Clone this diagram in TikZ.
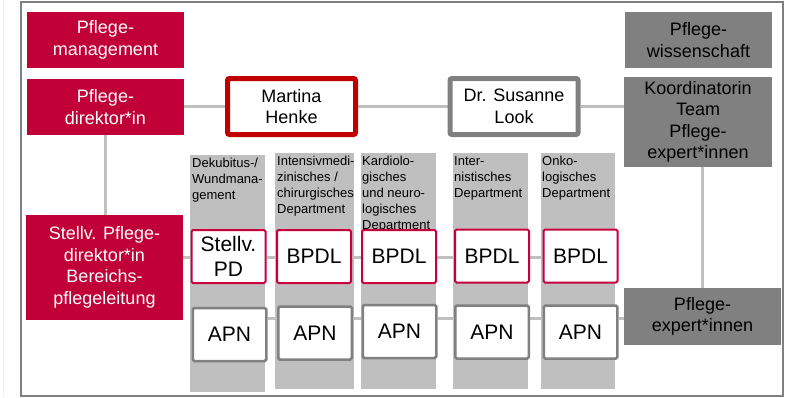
\documentclass[tikz,border=0pt]{standalone}
\usepackage{fontspec}
\setmainfont{Liberation Sans}
\usetikzlibrary{calc}
\definecolor{pred}{RGB}{192,0,54}
\definecolor{bred}{RGB}{200,0,60}
\definecolor{mred}{RGB}{192,0,0}
\definecolor{pgray}{RGB}{128,128,128}
\definecolor{colgray}{RGB}{191,191,191}
\definecolor{lgray}{RGB}{192,192,192}
\definecolor{frame}{RGB}{128,128,128}
\newcommand\fsz[2]{\fontsize{#1}{#2}\selectfont}
\pgfdeclarelayer{cols}
\pgfdeclarelayer{conns}
\pgfsetlayers{cols,conns,main}
\tikzset{
  redbox/.style={fill=pred, text=white, inner sep=0pt, align=center, font=\fsz{18}{21.5}},
  graybox/.style={fill=pgray, text=black, inner sep=0pt, align=center, font=\fsz{18}{21.5}},
  namebox/.style={draw, fill=white, line width=5pt, rounded corners=2pt, inner sep=0pt, align=center,
     minimum width=128pt, minimum height=56pt, font=\fsz{18}{21.5}},
  bpdlbox/.style={draw=bred, fill=white, line width=2pt, rounded corners=1.5pt, inner sep=0pt, align=center,
     minimum width=74pt, minimum height=53pt, font=\fsz{21}{25}},
  apnbox/.style={draw=pgray, fill=white, line width=2.5pt, rounded corners=1.5pt, inner sep=0pt, align=center,
     minimum width=73.5pt, minimum height=53pt, font=\fsz{21}{25}},
  conn/.style={draw=lgray, line width=3pt},
  colbg/.style={fill=colgray},
  coltext/.style={anchor=north west, inner sep=0pt, align=left, font=\fsz{13}{16}},
}
\begin{document}
\begin{tikzpicture}[x=1pt,y=-1pt]
\useasboundingbox (0,0) rectangle (786,397);
\begin{pgfonlayer}{cols}
\draw[gray!12, line width=1pt] (3,0) -- (3,397);
\draw[frame, line width=1.5pt] (21,2) rectangle (783,396);
\fill[colbg] (190,155) rectangle (265,392);
\fill[colbg] (275,153) rectangle (354,389);
\fill[colbg] (361,153) rectangle (436,389);
\fill[colbg] (453,153) rectangle (528,389);
\fill[colbg] (541,153) rectangle (615,389);
\node[coltext] (c1t) at (192,158) {Dekubitus-/\\Wundmana-\\gement};
\node[coltext] (c2t) at (277,156) {Intensivmedi-\\zinisches /\\chirurgisches\\Department};
\node[coltext] (c3t) at (362,156) {Kardiolo-\\gisches\\und neuro-\\logisches\\Department};
\node[coltext] (c4t) at (454,156) {Inter-\\nistisches\\Department};
\node[coltext] (c5t) at (542,156) {Onko-\\logisches\\Department};
\end{pgfonlayer}

\node[redbox, minimum width=157pt, minimum height=56pt] (pm) at (105.5,40) {Pflege-\\management};
\node[redbox, minimum width=157pt, minimum height=56pt] (pd) at (105.5,107) {Pflege-\\direktor*in};
\node[redbox, minimum width=157pt, minimum height=105pt] (st) at (104.5,267.5) {Stellv. Pflege-\\direktor*in\\Bereichs-\\pflegeleitung};
\node[namebox, draw=mred] (mh) at (291.5,106.5) {Martina\\Henke};
\node[namebox, draw=pgray] (sl) at (514,106.5) {Dr. Susanne\\Look};
\node[graybox, minimum width=147pt, minimum height=56pt] (pw) at (698.5,40) {Pflege-\\wissenschaft};
\node[graybox, minimum width=148pt, minimum height=90pt] (ko) at (698,122) {Koordinatorin\\Team\\Pflege-\\expert*innen};
\node[graybox, minimum width=157pt, minimum height=57pt] (pe) at (702.5,316.5) {Pflege-\\expert*innen};

\node[bpdlbox] (b1) at (228.5,256.5) {Stellv.\\PD};
\node[bpdlbox] (b2) at (314,256.5) {BPDL};
\node[bpdlbox] (b3) at (399,256.5) {BPDL};
\node[bpdlbox] (b4) at (492,256) {BPDL};
\node[bpdlbox] (b5) at (580.5,256) {BPDL};

\node[apnbox] (a1) at (229.5,334.5) {APN};
\node[apnbox] (a2) at (315,333) {APN};
\node[apnbox] (a3) at (399.5,331.5) {APN};
\node[apnbox] (a4) at (492,332) {APN};
\node[apnbox] (a5) at (580.5,332) {APN};

\coordinate (yT) at (0,106);
\coordinate (yB) at (0,257);
\coordinate (yA) at (0,318);
\begin{pgfonlayer}{conns}
\draw[conn] (pd.east |- yT) -- (mh.west |- yT);
\draw[conn] (mh.east |- yT) -- (sl.west |- yT);
\draw[conn] (sl.east |- yT) -- (ko.west |- yT);
\draw[conn] (pd.south) -- (pd.south |- st.north);
\draw[conn] (pe.north |- ko.south) -- (pe.north);
\draw[conn] (st.east |- yB) -- (b1.west |- yB);
\draw[conn] (b1.east |- yB) -- (b2.west |- yB);
\draw[conn] (b2.east |- yB) -- (b3.west |- yB);
\draw[conn] (b3.east |- yB) -- (b4.west |- yB);
\draw[conn] (b4.east |- yB) -- (b5.west |- yB);
\draw[conn] (a1.east |- yA) -- (a2.west |- yA);
\draw[conn] (a2.east |- yA) -- (a3.west |- yA);
\draw[conn] (a3.east |- yA) -- (a4.west |- yA);
\draw[conn] (a4.east |- yA) -- (a5.west |- yA);
\draw[conn] (a5.east |- yA) -- (pe.west |- yA);
\end{pgfonlayer}
\end{tikzpicture}
\end{document}
